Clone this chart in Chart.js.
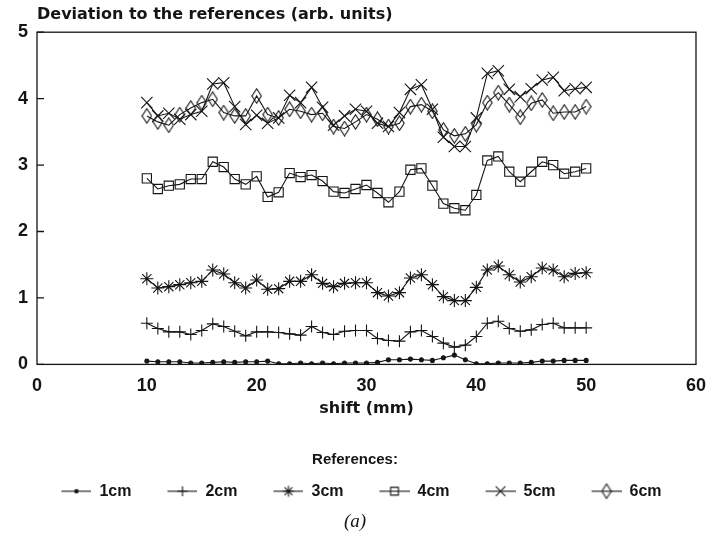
<!DOCTYPE html>
<html>
<head>
<meta charset="utf-8">
<script src="https://cdn.jsdelivr.net/npm/chart.js@4.4.1/dist/chart.umd.min.js"></script>
<style>
  html, body { margin: 0; padding: 0; background: #fff; }
  #wrap { width: 717px; height: 542px; }
</style>
</head>
<body>
<div id="wrap"><canvas id="chart" width="717" height="542"></canvas></div>
<script>
// shift positions (mm)
const shift = [10, 11, 12, 13, 14, 15, 16, 17, 18, 19, 20, 21, 22, 23, 24, 25, 26, 27, 28, 29,
  30, 31, 32, 33, 34, 35, 36, 37, 38, 39, 40, 41, 42, 43, 44, 45, 46, 47, 48, 49, 50];

const labels = ['1cm', '2cm', '3cm', '4cm', '5cm', '6cm'];

const ref1cm = [0.05, 0.04, 0.04, 0.04, 0.02, 0.02, 0.03, 0.04, 0.03, 0.04, 0.04, 0.05, 0.01, 0.01,
  0.02, 0.01, 0.02, 0.01, 0.02, 0.02, 0.02, 0.03, 0.07, 0.07, 0.08, 0.07, 0.06, 0.10, 0.14, 0.07,
  0.01, 0.01, 0.02, 0.02, 0.02, 0.03, 0.05, 0.05, 0.06, 0.06, 0.06];
const ref2cm = [0.62, 0.54, 0.49, 0.49, 0.45, 0.51, 0.61, 0.57, 0.50, 0.43, 0.49, 0.49, 0.48, 0.46,
  0.44, 0.57, 0.48, 0.45, 0.50, 0.51, 0.51, 0.39, 0.36, 0.35, 0.49, 0.51, 0.42, 0.32, 0.26, 0.29,
  0.42, 0.62, 0.65, 0.54, 0.50, 0.52, 0.60, 0.62, 0.55, 0.55, 0.55];
const ref3cm = [1.29, 1.15, 1.17, 1.20, 1.23, 1.25, 1.42, 1.36, 1.23, 1.15, 1.27, 1.13, 1.14, 1.25,
  1.25, 1.35, 1.22, 1.17, 1.22, 1.23, 1.23, 1.08, 1.03, 1.08, 1.30, 1.35, 1.20, 1.02, 0.96, 0.96,
  1.16, 1.42, 1.48, 1.35, 1.24, 1.32, 1.45, 1.42, 1.32, 1.37, 1.38];
const ref4cm = [2.80, 2.64, 2.69, 2.71, 2.79, 2.79, 3.05, 2.97, 2.79, 2.71, 2.83, 2.52, 2.59, 2.88,
  2.82, 2.85, 2.76, 2.60, 2.58, 2.64, 2.70, 2.58, 2.44, 2.60, 2.93, 2.95, 2.69, 2.42, 2.35, 2.32,
  2.55, 3.07, 3.13, 2.90, 2.75, 2.90, 3.05, 3.00, 2.87, 2.90, 2.95];
const ref5cm = [3.94, 3.74, 3.78, 3.69, 3.76, 3.81, 4.22, 4.24, 3.88, 3.61, 3.75, 3.63, 3.71, 4.05,
  3.94, 4.17, 3.87, 3.60, 3.74, 3.84, 3.81, 3.63, 3.58, 3.79, 4.14, 4.21, 3.84, 3.42, 3.28, 3.28,
  3.71, 4.38, 4.42, 4.14, 4.03, 4.15, 4.28, 4.32, 4.12, 4.15, 4.17];
const ref6cm = [3.74, 3.65, 3.60, 3.76, 3.86, 3.94, 3.99, 3.79, 3.74, 3.74, 4.04, 3.76, 3.71, 3.84,
  3.81, 3.76, 3.78, 3.58, 3.55, 3.65, 3.76, 3.69, 3.58, 3.63, 3.88, 3.91, 3.81, 3.53, 3.44, 3.47,
  3.61, 3.94, 4.09, 3.91, 3.72, 3.93, 3.98, 3.78, 3.80, 3.80, 3.88];

const xTicks = [0, 10, 20, 30, 40, 50, 60];
const yTicks = [0, 1, 2, 3, 4, 5];

const series = [ref1cm, ref2cm, ref3cm, ref4cm, ref5cm, ref6cm];

const INK = '#151515';
const FONT = "'Liberation Sans', Arial, sans-serif";
const WIDE = "'DejaVu Sans', sans-serif";

// narrow diamond used by the 6cm series
function diamond() {
  const c = document.createElement('canvas');
  c.width = 11; c.height = 16;
  const g = c.getContext('2d');
  g.strokeStyle = INK; g.lineWidth = 1.1;
  g.beginPath();
  g.moveTo(5.5, 0.8); g.lineTo(10.2, 8); g.lineTo(5.5, 15.2); g.lineTo(0.8, 8);
  g.closePath(); g.stroke();
  return c;
}

const markers = [
  { pointStyle: 'circle', radius: 2, fill: INK },
  { pointStyle: 'cross', radius: 6, fill: 'rgba(0,0,0,0)' },
  { pointStyle: 'star', radius: 6.5, fill: 'rgba(0,0,0,0)' },
  { pointStyle: 'rect', radius: 6.5, fill: 'rgba(0,0,0,0)' },
  { pointStyle: 'crossRot', radius: 8, fill: 'rgba(0,0,0,0)' },
  { pointStyle: diamond(), radius: 8, fill: 'rgba(0,0,0,0)' }
];

// legend icon: short line with the marker in the middle, blank strip on the left for spacing
function legendIcon(m) {
  const c = document.createElement('canvas');
  c.width = 43; c.height = 18;
  const g = c.getContext('2d');
  g.strokeStyle = INK; g.lineWidth = 1.1;
  g.beginPath(); g.moveTo(13, 9); g.lineTo(43, 9); g.stroke();
  g.fillStyle = m.fill;
  if (typeof m.pointStyle === 'string') {
    Chart.helpers.drawPoint(g, { pointStyle: m.pointStyle, radius: m.radius * 0.85, borderWidth: 1.1, rotation: 0 }, 28, 9);
  } else {
    g.drawImage(m.pointStyle, 28 - m.pointStyle.width / 2, 9 - m.pointStyle.height / 2);
  }
  return c;
}

const datasets = series.map((vals, i) => ({
  label: labels[i],
  data: shift.map((x, j) => ({ x: x, y: vals[j] })),
  borderColor: INK,
  borderWidth: 1.1,
  tension: 0,
  pointStyle: markers[i].pointStyle,
  pointRadius: markers[i].radius,
  pointBorderColor: INK,
  pointBackgroundColor: markers[i].fill,
  pointBorderWidth: 1.1
}));

const frame = {
  id: 'frame',
  afterDraw(chart) {
    const { ctx, chartArea: a, scales } = chart;
    ctx.save();
    ctx.strokeStyle = INK;
    ctx.lineWidth = 1.3;
    ctx.strokeRect(a.left, a.top, a.width, a.height);
    ctx.beginPath();
    yTicks.forEach(v => {
      const py = scales.y.getPixelForValue(v);
      ctx.moveTo(a.left, py); ctx.lineTo(a.left + 7, py);
    });
    ctx.stroke();
    ctx.restore();
  }
};

new Chart(document.getElementById('chart'), {
  type: 'line',
  data: { datasets: datasets },
  plugins: [frame],
  options: {
    responsive: false,
    animation: false,
    devicePixelRatio: 1,
    layout: { padding: { left: 9, right: 16, top: 0, bottom: 0 } },
    scales: {
      x: {
        type: 'linear',
        min: 0, max: 60,
        afterBuildTicks: s => { s.ticks = xTicks.map(v => ({ value: v })); },
        grid: { display: false, drawTicks: false },
        border: { display: false },
        ticks: { color: INK, padding: 11, font: { family: FONT, size: 18, weight: 'bold' } },
        title: {
          display: true, text: 'shift (mm)', color: INK,
          font: { family: WIDE, size: 16, weight: 'bold' },
          padding: { top: -9, bottom: 20 }
        }
      },
      y: {
        min: 0, max: 5,
        afterBuildTicks: s => { s.ticks = yTicks.map(v => ({ value: v })); },
        grid: { display: false, drawTicks: false },
        border: { display: false },
        ticks: { color: INK, padding: 9, font: { family: FONT, size: 18, weight: 'bold' } }
      }
    },
    plugins: {
      title: {
        display: true,
        text: 'Deviation to the references (arb. units)',
        align: 'start',
        fullSize: false,
        color: INK,
        font: { family: WIDE, size: 16, weight: 'bold' },
        padding: { top: 5, bottom: 8 }
      },
      subtitle: {
        display: true,
        text: '(a)',
        position: 'bottom',
        color: INK,
        font: { family: "'Liberation Serif', 'Times New Roman', serif", size: 19, style: 'italic' },
        padding: { top: 1, bottom: 9 }
      },
      legend: {
        position: 'bottom',
        title: {
          display: true,
          text: 'References:',
          color: INK,
          font: { family: FONT, size: 15, weight: 'bold' },
          padding: { top: 14, bottom: -10 }
        },
        labels: {
          color: INK,
          font: { family: FONT, size: 16, weight: 'bold' },
          usePointStyle: true,
          pointStyleWidth: 43,
          padding: 23,
          generateLabels: chart => chart.data.datasets.map((ds, i) => ({
            text: ds.label,
            pointStyle: legendIcon(markers[i]),
            fillStyle: INK,
            strokeStyle: INK,
            fontColor: INK,
            lineWidth: 0,
            hidden: false,
            datasetIndex: i
          }))
        }
      },
      tooltip: { enabled: false }
    }
  }
});
</script>
</body>
</html>
